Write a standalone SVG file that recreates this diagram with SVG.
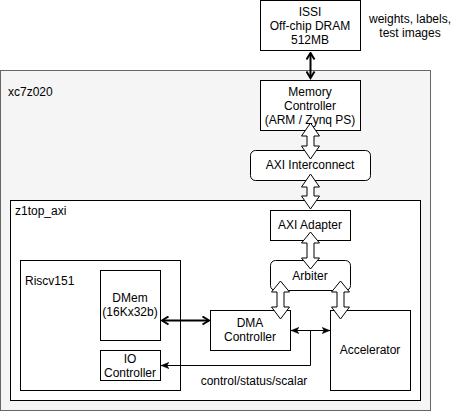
<svg xmlns="http://www.w3.org/2000/svg" width="471" height="411" viewBox="0 0 471 411">
<style>
text{font-family:"Liberation Sans",Arial,sans-serif;font-size:12px;fill:#000}
.c{text-anchor:middle}
.box{fill:#fff;stroke:#000;stroke-width:1}
.flex{fill:#fff;stroke:#000;stroke-width:1;stroke-linejoin:miter}
.thick{fill:none;stroke:#000;stroke-width:2}
.thin{fill:none;stroke:#000;stroke-width:1}
</style>
<defs>
<marker id="open" viewBox="0 0 10 10" refX="8.5" refY="5" markerWidth="10" markerHeight="10" markerUnits="userSpaceOnUse" orient="auto-start-reverse">
<path d="M2,1 L8.5,5 L2,9" fill="none" stroke="#000" stroke-width="2"/>
</marker>
<marker id="classic" viewBox="0 0 10 10" refX="10" refY="5" markerWidth="8" markerHeight="8" markerUnits="userSpaceOnUse" orient="auto-start-reverse">
<path d="M0,1 L10,5 L0,9 L2.5,5 Z" fill="#000" stroke="#000" stroke-width="0.5"/>
</marker>
</defs>

<g id="xc7z020">
<rect x="0.5" y="70.5" width="430" height="340" fill="#f5f5f5" stroke="#666666"/>
<text x="8" y="96" fill="#333333">xc7z020</text>
</g>

<g id="z1top_axi">
<rect class="box" x="10.5" y="200.5" width="410" height="200"/>
<text x="15" y="215">z1top_axi</text>
</g>

<g id="riscv151">
<rect class="box" x="20.5" y="260.5" width="160" height="130"/>
<text x="25" y="285">Riscv151</text>
</g>

<g id="issi">
<rect class="box" x="260.5" y="0.5" width="100" height="50"/>
<text class="c" x="310" y="16">ISSI</text>
<text class="c" x="310" y="30">Off-chip DRAM</text>
<text class="c" x="310" y="44">512MB</text>
</g>

<g id="data-label">
<text class="c" x="410" y="23">weights, labels,</text>
<text class="c" x="410" y="37">test images</text>
</g>

<g id="memory-controller">
<rect class="box" x="260.5" y="80.5" width="100" height="50"/>
<text class="c" x="310" y="96">Memory</text>
<text class="c" x="310" y="110">Controller</text>
<text class="c" x="310" y="124">(ARM / Zynq PS)</text>
</g>

<g id="axi-interconnect">
<rect class="box" x="250.5" y="150.5" width="120" height="30" rx="5" ry="5"/>
<text class="c" x="310" y="169">AXI Interconnect</text>
</g>

<g id="axi-adapter">
<rect class="box" x="270.5" y="210.5" width="80" height="30"/>
<text class="c" x="310" y="229">AXI Adapter</text>
</g>

<g id="arbiter">
<rect class="box" x="270.5" y="260.5" width="80" height="30" rx="5" ry="5"/>
<text class="c" x="310" y="280">Arbiter</text>
</g>

<g id="dmem">
<rect class="box" x="100.5" y="270.5" width="60" height="70"/>
<text class="c" x="130" y="302">DMem</text>
<text class="c" x="130" y="316">(16Kx32b)</text>
</g>

<g id="io-controller">
<rect class="box" x="100.5" y="350.5" width="60" height="30"/>
<text class="c" x="130" y="363">IO</text>
<text class="c" x="130" y="377">Controller</text>
</g>

<g id="dma-controller">
<rect class="box" x="210.5" y="310.5" width="80" height="40"/>
<text class="c" x="250" y="327">DMA</text>
<text class="c" x="250" y="341">Controller</text>
</g>

<g id="accelerator">
<rect class="box" x="330.5" y="310.5" width="80" height="80"/>
<text class="c" x="370" y="354">Accelerator</text>
</g>

<g id="connectors">
<path class="thick" d="M310.5,53 L310.5,78" marker-start="url(#open)" marker-end="url(#open)"/>
<path class="flex" d="M310.5,123 L319.5,136 L314,136 L314,146 L319.5,146 L310.5,159 L301.5,146 L307,146 L307,136 L301.5,136 Z"/>
<path class="flex" d="M310.5,174 L319.5,187 L314,187 L314,196 L319.5,196 L310.5,209 L301.5,196 L307,196 L307,187 L301.5,187 Z"/>
<path class="flex" d="M310.5,232 L319.5,243 L314,243 L314,258 L319.5,258 L310.5,269 L301.5,258 L307,258 L307,243 L301.5,243 Z"/>
<path class="flex" d="M280.5,281 L289.5,292 L284,292 L284,307 L289.5,307 L280.5,319 L271.5,307 L277,307 L277,292 L271.5,292 Z"/>
<path class="flex" d="M340.5,281 L349.5,292 L344,292 L344,307 L349.5,307 L340.5,319 L331.5,307 L337,307 L337,292 L331.5,292 Z"/>
<path class="thick" d="M162,320.5 L209,320.5" marker-start="url(#open)" marker-end="url(#open)"/>
<path class="thin" d="M291,330.5 L330,330.5" marker-start="url(#classic)" marker-end="url(#classic)"/>
<path class="thin" d="M310.5,330.5 L310.5,365.5 L161,365.5" marker-end="url(#classic)"/>
<text class="c" x="254" y="385">control/status/scalar</text>
</g>
</svg>
